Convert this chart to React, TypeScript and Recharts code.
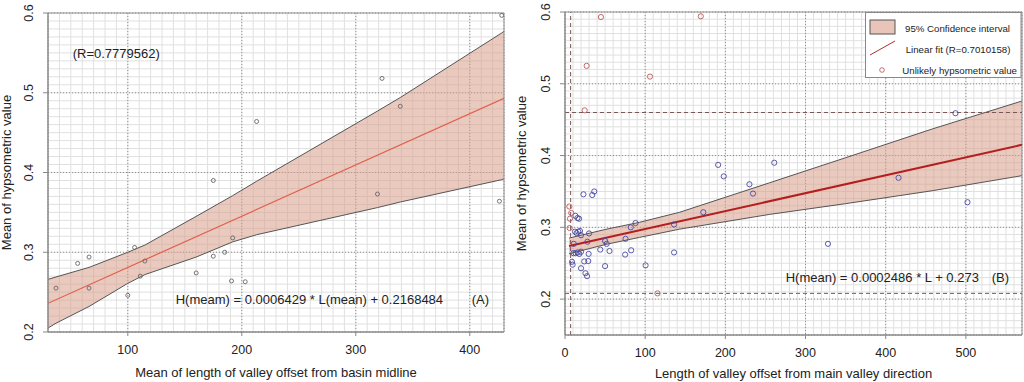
import {
  ComposedChart,
  Area,
  Line,
  Scatter,
  XAxis,
  YAxis,
  CartesianGrid,
  ReferenceLine,
  ReferenceArea,
} from "recharts"

const FONT = "'Liberation Sans', Arial, Helvetica, sans-serif"
const TEXT = "#222"
const BAND = "#d89c8a"

// ---- panel A: mean valley offset vs mean hypsometric value
const pointsA: [number, number][] = [
  [37, 0.255], [56, 0.286], [66, 0.294], [66, 0.255], [100, 0.246], [106, 0.306],
  [111, 0.27], [115, 0.289], [160, 0.274], [175, 0.295], [175, 0.39], [185, 0.3],
  [191, 0.264], [192, 0.318], [203, 0.263], [213, 0.464], [319, 0.373], [323, 0.518],
  [339, 0.483], [426, 0.364], [428, 0.597],
]
const bandXA = [30, 37, 66, 100, 115, 160, 192, 213, 319, 339, 428, 430]
const bandLoA = [0.205, 0.211, 0.232, 0.261, 0.272, 0.294, 0.313, 0.322, 0.356, 0.363, 0.391, 0.392]
const bandHiA = [0.266, 0.269, 0.281, 0.3, 0.309, 0.345, 0.371, 0.389, 0.477, 0.494, 0.575, 0.577]
const fitA: [number, number][] = [[30, 0.236], [430, 0.493]]
const xDomA: [number, number] = [30, 430]
const yDomA: [number, number] = [0.2, 0.6]
const xTicksA = [100, 200, 300, 400]
const yTicksA = [0.2, 0.3, 0.4, 0.5, 0.6]

// ---- panel B: valley offset vs hypsometric value
const normalB: [number, number][] = [
  [23, 0.346], [34, 0.345], [36.5, 0.35], [13, 0.316], [15.5, 0.313], [17.5, 0.312],
  [12.5, 0.294], [14.5, 0.292], [16.5, 0.294], [18.7, 0.295], [20, 0.289], [30, 0.2915],
  [11, 0.277], [28, 0.28], [10.5, 0.264], [13.3, 0.264], [15.8, 0.265], [17.8, 0.263],
  [20, 0.266], [29.5, 0.263], [8.7, 0.252], [9.5, 0.248], [24, 0.2525], [29, 0.253],
  [20, 0.243], [25.5, 0.236], [27.5, 0.232], [44, 0.269], [50, 0.281], [52, 0.277],
  [55.5, 0.267], [50, 0.246], [75.5, 0.284], [75, 0.262], [82.5, 0.268], [82, 0.3],
  [88, 0.306], [100.5, 0.247], [136, 0.265], [136, 0.304], [172.5, 0.321], [191, 0.387],
  [198, 0.371], [230, 0.36], [234.5, 0.347], [261, 0.39], [328, 0.277], [416, 0.369],
  [487, 0.459], [502, 0.335],
]
const unlikelyB: [number, number][] = [
  [5.4, 0.329], [7.8, 0.32], [6.2, 0.312], [5.8, 0.299], [44.8, 0.593], [169.4, 0.594],
  [27, 0.525], [106, 0.51], [24.5, 0.463], [115.4, 0.208],
]
const bandXB = [5, 50, 93, 143, 255, 350, 458, 570]
const bandLoB = [0.263, 0.276, 0.286, 0.2975, 0.318, 0.333, 0.351, 0.372]
const bandHiB = [0.285, 0.297, 0.307, 0.321, 0.362, 0.397, 0.437, 0.476]
const fitB: [number, number][] = [[5, 0.274], [570, 0.415]]
const xDomB: [number, number] = [0, 570]
const yDomB: [number, number] = [0.15, 0.6]
const xTicksB = [0, 100, 200, 300, 400, 500]
const yTicksB = [0.2, 0.3, 0.4, 0.5, 0.6]
const limitsB = { minOffset: 7, lowH: 0.208, highH: 0.46 }

// plot boxes (margin + axis sizes)
const W = 512
const H = 382
const boxA = { left: 48, top: 13, right: 8, bottom: 50 }
const boxB = { left: 53, top: 12, right: 2, bottom: 47 }

// minor grid positions (every 10 units / 0.01)
const steps = (a: number, b: number, s: number) => {
  const out: number[] = []
  for (let v = a; v <= b + 1e-9; v += s) out.push(Math.round(v * 1000) / 1000)
  return out
}
const vPts = (box: typeof boxA, dom: [number, number], vals: number[]) => {
  const w = W - box.left - box.right
  return vals.map((v) => box.left + (w * (v - dom[0])) / (dom[1] - dom[0]))
}
const hPts = (box: typeof boxA, dom: [number, number], vals: number[]) => {
  const h = H - box.top - box.bottom
  return vals.map((v) => box.top + (h * (dom[1] - v)) / (dom[1] - dom[0]))
}

const toRows = (pts: [number, number][]) => pts.map(([x, y]) => ({ x, y }))
const bandRows = (xs: number[], lo: number[], hi: number[]) =>
  xs.map((x, i) => ({ x, band: [lo[i], hi[i]] }))

function YTick({ x, y, payload }: any) {
  const bx = x - 8
  return (
    <text
      x={bx}
      y={y}
      transform={`rotate(-90 ${bx} ${y})`}
      textAnchor="middle"
      fontSize={12.5}
      fontFamily={FONT}
      fill={TEXT}
    >
      {payload.value}
    </text>
  )
}

const ring = (color: string, r: number, w: number) => (props: any) =>
  <circle cx={props.cx} cy={props.cy} r={r} fill="none" stroke={color} strokeWidth={w} />

const MINOR = "#e0e0e0"

function PanelA() {
  return (
    <ComposedChart
      width={W}
      height={H}
      data={bandRows(bandXA, bandLoA, bandHiA)}
      margin={{ top: boxA.top, right: boxA.right, left: 0, bottom: 0 }}
    >
      <CartesianGrid
        stroke={MINOR}
        verticalPoints={vPts(boxA, xDomA, steps(40, 420, 10))}
        horizontalPoints={hPts(boxA, yDomA, steps(0.21, 0.59, 0.01))}
      />
      <CartesianGrid stroke="#8f8f8f" strokeDasharray="1 2" />
      <XAxis
        type="number"
        dataKey="x"
        domain={xDomA}
        ticks={xTicksA}
        allowDataOverflow
        height={boxA.bottom}
        tickSize={4}
        tickMargin={9}
        stroke="#888"
        tick={{ fontSize: 12.5, fill: TEXT, fontFamily: FONT }}
        label={{
          value: "Mean of length of valley offset from basin midline",
          position: "insideBottom",
          offset: 5,
          fontSize: 13,
          fill: TEXT,
          fontFamily: FONT,
        }}
      />
      <YAxis
        type="number"
        domain={yDomA}
        ticks={yTicksA}
        allowDataOverflow
        width={boxA.left}
        tickSize={5}
        tickMargin={2}
        stroke="#888"
        tick={<YTick />}
        label={{
          value: "Mean of hypsometric value",
          angle: -90,
          position: "insideLeft",
          offset: 6,
          fontSize: 13,
          fill: TEXT,
          fontFamily: FONT,
          style: { textAnchor: "middle" },
        }}
      />
      <Area
        type="linear"
        dataKey="band"
        fill={BAND}
        fillOpacity={0.55}
        stroke="#555"
        strokeWidth={1}
        dot={false}
        activeDot={false}
        isAnimationActive={false}
      />
      <Line
        data={toRows(fitA)}
        type="linear"
        dataKey="y"
        stroke="#e0604c"
        strokeWidth={1.2}
        dot={false}
        activeDot={false}
        isAnimationActive={false}
      />
      <Scatter data={toRows(pointsA)} dataKey="y" shape={ring("#666", 2, 0.9)} isAnimationActive={false} />
      <ReferenceArea x1={xDomA[0]} x2={xDomA[1]} y1={yDomA[0]} y2={yDomA[1]} fill="none" stroke="#8c8c8c" strokeWidth={1} />
    </ComposedChart>
  )
}

function PanelB() {
  return (
    <ComposedChart
      width={W}
      height={H}
      data={bandRows(bandXB, bandLoB, bandHiB)}
      margin={{ top: boxB.top, right: boxB.right, left: 0, bottom: 0 }}
    >
      <CartesianGrid
        stroke={MINOR}
        verticalPoints={vPts(boxB, xDomB, steps(10, 560, 10))}
        horizontalPoints={hPts(boxB, yDomB, steps(0.16, 0.59, 0.01))}
      />
      <CartesianGrid stroke="#8f8f8f" strokeDasharray="1 2" />
      <XAxis
        type="number"
        dataKey="x"
        domain={xDomB}
        ticks={xTicksB}
        allowDataOverflow
        height={boxB.bottom}
        tickSize={4}
        tickMargin={9}
        stroke="#888"
        tick={{ fontSize: 12.5, fill: TEXT, fontFamily: FONT }}
        label={{
          value: "Length of valley offset from main valley direction",
          position: "insideBottom",
          offset: 4.5,
          fontSize: 13,
          fill: TEXT,
          fontFamily: FONT,
        }}
      />
      <YAxis
        type="number"
        domain={yDomB}
        ticks={yTicksB}
        allowDataOverflow
        width={boxB.left}
        tickSize={5}
        tickMargin={2}
        stroke="#888"
        tick={<YTick />}
        label={{
          value: "Mean of hypsometric value",
          angle: -90,
          position: "insideLeft",
          offset: 9,
          fontSize: 13,
          fill: TEXT,
          fontFamily: FONT,
          style: { textAnchor: "middle" },
        }}
      />
      <Area
        type="linear"
        dataKey="band"
        fill={BAND}
        fillOpacity={0.55}
        stroke="#555"
        strokeWidth={1}
        dot={false}
        activeDot={false}
        isAnimationActive={false}
      />
      <Line
        data={toRows(fitB)}
        type="linear"
        dataKey="y"
        stroke="#b41e1e"
        strokeWidth={2}
        dot={false}
        activeDot={false}
        isAnimationActive={false}
      />
      <ReferenceLine x={limitsB.minOffset} stroke="#7a5555" strokeDasharray="4 3" />
      <ReferenceLine y={limitsB.highH} stroke="#7a5555" strokeDasharray="4 3" />
      <ReferenceLine y={limitsB.lowH} stroke="#7a5555" strokeDasharray="4 3" />
      <Scatter data={toRows(normalB)} dataKey="y" shape={ring("#4a4aa0", 2.6, 0.9)} isAnimationActive={false} />
      <Scatter data={toRows(unlikelyB)} dataKey="y" shape={ring("#b85a5a", 2.6, 0.9)} isAnimationActive={false} />
      <ReferenceArea x1={xDomB[0]} x2={xDomB[1]} y1={yDomB[0]} y2={yDomB[1]} fill="none" stroke="#8c8c8c" strokeWidth={1} />
    </ComposedChart>
  )
}

export default function App() {
  const t = { fontFamily: FONT, fill: TEXT }
  return (
    <div style={{ position: "absolute", left: 0, top: 0, width: 1024, height: 382, background: "#fff" }}>
      <div style={{ position: "absolute", left: 0, top: 0 }}>
        <PanelA />
      </div>
      <div style={{ position: "absolute", left: 512, top: 0 }}>
        <PanelB />
      </div>
      <svg
        width={1024}
        height={382}
        style={{ position: "absolute", left: 0, top: 0, pointerEvents: "none" }}
      >
        <text x={72.7} y={58} fontSize={13} {...t}>(R=0.7779562)</text>
        <text x={175.7} y={304} fontSize={13} {...t}>H(meam) = 0.0006429 * L(mean) + 0.2168484</text>
        <text x={471.7} y={304} fontSize={13} {...t}>(A)</text>
        <text x={785.7} y={282.3} fontSize={13} {...t}>H(mean) = 0.0002486 * L + 0.273</text>
        <text x={991.7} y={282.3} fontSize={13} {...t}>(B)</text>

        <rect x={865.5} y={12.5} width={155.5} height={65} fill="#fff" stroke="#888" />
        <rect x={870} y={20} width={25} height={14} fill={BAND} fillOpacity={0.6} stroke="#555" />
        <text x={905} y={31.5} fontSize={9.7} {...t}>95% Confidence interval</text>
        <line x1={870} y1={55} x2={895} y2={41} stroke="#b03030" strokeWidth={1} />
        <text x={905.7} y={52.8} fontSize={9.7} {...t}>Linear fit (R=0.7010158)</text>
        <circle cx={882} cy={70} r={2.3} fill="none" stroke="#c06060" strokeWidth={0.9} />
        <text x={902.3} y={73.5} fontSize={9.7} {...t}>Unlikely hypsometric value</text>
      </svg>
    </div>
  )
}
